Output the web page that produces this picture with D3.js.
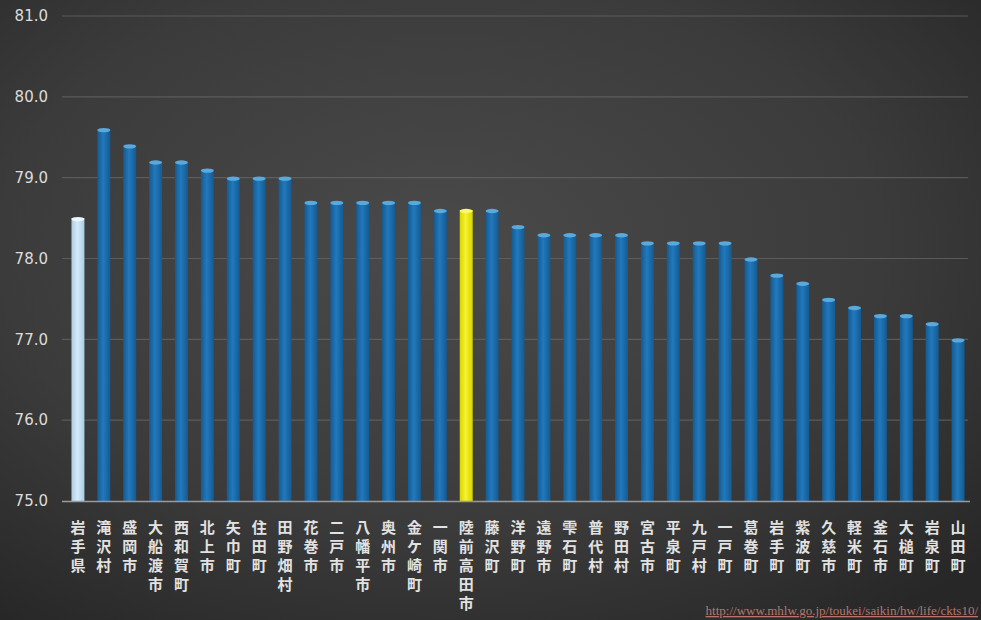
<!DOCTYPE html>
<html><head><meta charset="utf-8">
<script src="https://cdn.jsdelivr.net/npm/d3@7"></script>
<style>html,body{margin:0;padding:0;background:#333;}svg{display:block;}</style>
</head><body>
<script>
const categories = ["岩手県","滝沢村","盛岡市","大船渡市","西和賀町","北上市","矢巾町","住田町","田野畑村","花巻市","二戸市","八幡平市","奥州市","金ケ崎町","一関市","陸前高田市","藤沢町","洋野町","遠野市","雫石町","普代村","野田村","宮古市","平泉町","九戸村","一戸町","葛巻町","岩手町","紫波町","久慈市","軽米町","釜石市","大槌町","岩泉町","山田町"];
const values = [78.5,79.6,79.4,79.2,79.2,79.1,79.0,79.0,79.0,78.7,78.7,78.7,78.7,78.7,78.6,78.6,78.6,78.4,78.3,78.3,78.3,78.3,78.2,78.2,78.2,78.2,78.0,77.8,77.7,77.5,77.4,77.3,77.3,77.2,77.0];
const yTicks = [75,76,77,78,79,80,81];
const prefecture = "岩手県";
const highlight = "陸前高田市";
const sourceText = "http://www.mhlw.go.jp/toukei/saikin/hw/life/ckts10/";

const W = 981, H = 620;
const svg = d3.select("body").append("svg").attr("width", W).attr("height", H);
const defs = svg.append("defs");
const bg = defs.append("radialGradient").attr("id","bg").attr("cx","45%").attr("cy","40%").attr("r","75%");
bg.append("stop").attr("offset","0%").attr("stop-color","#4a4a4a");
bg.append("stop").attr("offset","60%").attr("stop-color","#3b3b3b");
bg.append("stop").attr("offset","100%").attr("stop-color","#272727");
svg.append("rect").attr("width",W).attr("height",H).attr("fill","url(#bg)");

function barGrad(id, edge, mid){
  const g = defs.append("linearGradient").attr("id",id).attr("x1","0").attr("x2","1").attr("y1","0").attr("y2","0");
  g.append("stop").attr("offset","0%").attr("stop-color",edge);
  g.append("stop").attr("offset","45%").attr("stop-color",mid);
  g.append("stop").attr("offset","100%").attr("stop-color",edge);
}
barGrad("gBlue","#155a90","#2179bd");
barGrad("gPref","#a9cde6","#d6eaf7");
barGrad("gHi","#d8d400","#f6f230");

const x = d3.scaleBand().domain(categories).range([65, 971]).paddingInner(0.5).paddingOuter(0.25);
const y = d3.scaleLinear().domain([75,81]).range([501, 16]);

// gridlines
svg.append("g").selectAll("line").data(yTicks.filter(t=>t>75)).join("line")
  .attr("x1",62).attr("x2",968).attr("y1",d=>y(d)).attr("y2",d=>y(d))
  .attr("stroke","#666").attr("stroke-width",1.2).attr("opacity",0.75);

// y axis labels
const yAxis = d3.axisLeft(y).tickValues(yTicks).tickFormat(d3.format(".1f")).tickSize(0).tickPadding(0);
const ya = svg.append("g").attr("transform","translate(48,0)").call(yAxis);
ya.select(".domain").remove();
ya.selectAll("text").attr("fill","#dcdcdc").style("font-family","'DejaVu Sans', sans-serif").style("font-size","15px");

// bars
const bw = x.bandwidth();
const fillFor = d => d===prefecture ? "url(#gPref)" : d===highlight ? "url(#gHi)" : "url(#gBlue)";
const capFor = d => d===prefecture ? "#eef7fd" : d===highlight ? "#fbf86a" : "#5aa9dc";
const bars = svg.append("g").selectAll("g").data(categories).join("g");
bars.append("rect")
  .attr("x", d=>x(d)).attr("width", bw)
  .attr("y", (d,i)=>y(values[i])).attr("height", (d,i)=>y(75)-y(values[i]))
  .attr("fill", fillFor);
bars.append("ellipse")
  .attr("cx", d=>x(d)+bw/2).attr("cy",(d,i)=>y(values[i])+1)
  .attr("rx", bw/2).attr("ry", 2.2).attr("fill", capFor);

// x axis line
svg.append("line").attr("x1",62).attr("x2",970).attr("y1",501.5).attr("y2",501.5)
  .attr("stroke","#9a9a9a").attr("stroke-width",1.5);

// x labels: one character per line, stacked vertically
const lab = svg.append("g").selectAll("g").data(categories).join("g")
  .attr("transform", d=>`translate(${x(d)+bw/2},0)`);
lab.selectAll("text").data(d=>Array.from(d)).join("text")
  .attr("x", 0).attr("y", (c,i)=>533 + i*19)
  .attr("text-anchor","middle").attr("fill","#e2e2e2")
  .style("font-family","'Noto Sans CJK JP', sans-serif").style("font-size","15px").style("font-weight","bold")
  .text(c=>c);

// source
svg.append("text").attr("x", 978).attr("y", 615).attr("text-anchor","end")
  .attr("fill","#b9756a").style("font-family","'Liberation Serif', serif").style("font-size","13px")
  .style("text-decoration","underline").text(sourceText);
</script>
</body></html>
